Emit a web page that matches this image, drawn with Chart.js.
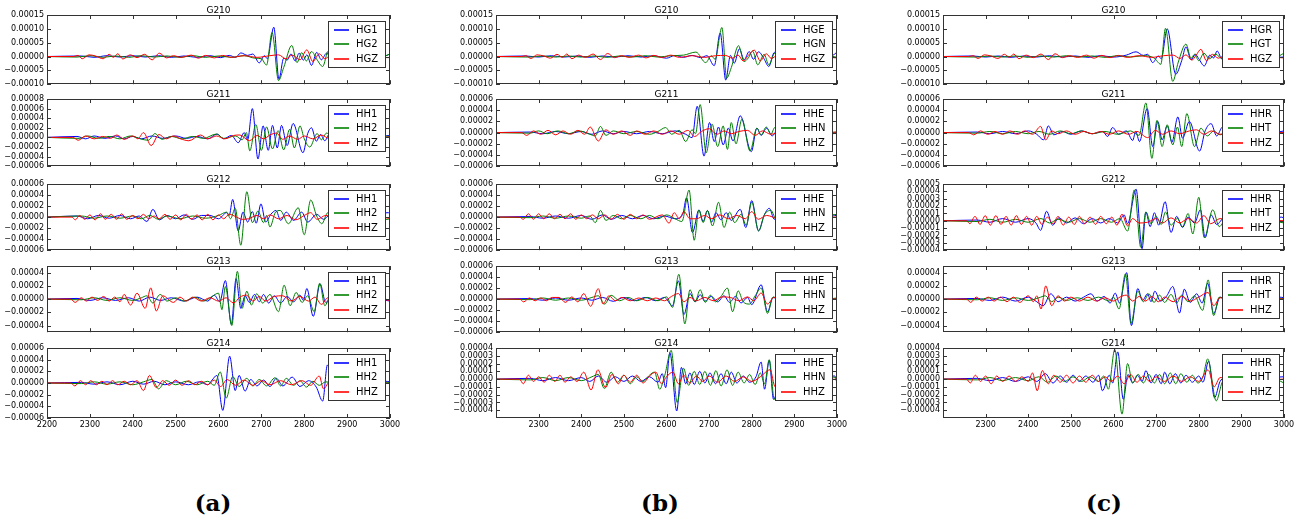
<!DOCTYPE html>
<html><head><meta charset="utf-8">
<script src="https://cdn.jsdelivr.net/npm/chart.js@4.4.0/dist/chart.umd.min.js"></script>
<style>
body{margin:0;background:#fff;width:1307px;height:523px;position:relative;overflow:hidden}
canvas{position:absolute}
.lab{position:absolute;font:bold 23px 'DejaVu Serif',serif;text-align:center;width:80px;color:#000}
</style>
</head><body>
<div class="lab" style="left:173px;top:489px">(a)</div>
<div class="lab" style="left:620px;top:489px">(b)</div>
<div class="lab" style="left:1064px;top:489px">(c)</div>
<script>
// values in units of 1e-5
const SCALE = 1e-5;
const stations = ['G210','G211','G212','G213','G214'];
const xTicksA = [2200,2300,2400,2500,2600,2700,2800,2900,3000];
const xTicksBC = [2300,2400,2500,2600,2700,2800,2900,3000];

const legendA = [['HG1','HG2','HGZ'],['HH1','HH2','HHZ'],['HH1','HH2','HHZ'],['HH1','HH2','HHZ'],['HH1','HH2','HHZ']];
const legendB = [['HGE','HGN','HGZ'],['HHE','HHN','HHZ'],['HHE','HHN','HHZ'],['HHE','HHN','HHZ'],['HHE','HHN','HHZ']];
const legendC = [['HGR','HGT','HGZ'],['HHR','HHT','HHZ'],['HHR','HHT','HHZ'],['HHR','HHT','HHZ'],['HHR','HHT','HHZ']];

const yRangeA = [[-10,15],[-6,8],[-6,6],[-5,5],[-6,6]];
const yTicksA = [[-10,-5,0,5,10,15],[-6,-4,-2,0,2,4,6,8],[-6,-4,-2,0,2,4,6],[-4,-2,0,2,4],[-6,-4,-2,0,2,4,6]];
const yRangeB = [[-10,15],[-6,6],[-6,6],[-6,6],[-5,4]];
const yTicksB = [[-10,-5,0,5,10,15],[-6,-4,-2,0,2,4,6],[-6,-4,-2,0,2,4,6],[-6,-4,-2,0,2,4,6],[-4,-3,-2,-1,0,1,2,3,4]];
const yRangeC = [[-10,15],[-6,6],[-4,5],[-5,5],[-5,4]];
const yTicksC = [[-10,-5,0,5,10,15],[-6,-4,-2,0,2,4,6],[-4,-3,-2,-1,0,1,2,3,4,5],[-4,-2,0,2,4],[-4,-3,-2,-1,0,1,2,3,4]];

// ---------- panel (a) ----------
const a210_1 = [[2200,0],[2280,0.2],[2310,-0.3],[2340,0.3],[2370,-0.2],[2400,0.3],[2430,-0.2],[2460,0.3],[2490,-0.3],[2520,0.2],[2550,-0.3],[2580,0.3],[2605,-0.4],[2625,0.4],[2640,-0.3],[2652,1.3],[2668,0.4],[2680,0.9],[2695,-2.3],[2707,0.3],[2714,-0.8],[2729,10.6],[2741,-8.2],[2752,-0.6],[2760,-1.3],[2769,0.9],[2779,-1.6],[2788,1.2],[2798,-1.3],[2806,0.6],[2817,-3.2],[2829,1.5],[2840,-1.2],[2852,1.2],[2866,-0.9],[2885,0.7],[2910,-0.5],[2940,0.4],[2970,-0.3],[2990,0.3],[3000,0.9]];
const a210_2 = [[2200,0],[2270,-0.2],[2300,0.3],[2330,-0.3],[2360,0.2],[2390,-0.3],[2420,0.3],[2450,-0.2],[2480,0.2],[2510,-0.3],[2540,0.3],[2570,-0.3],[2600,0.2],[2630,-0.3],[2660,0.3],[2685,-0.6],[2700,-0.8],[2712,-3.1],[2725,8.7],[2740,-8.7],[2752,-4],[2771,4],[2783,-2.2],[2794,1.4],[2805,-1.6],[2817,1.8],[2830,-1.2],[2843,-3.6],[2856,2],[2870,-1.2],[2890,0.9],[2915,-0.6],[2945,0.5],[2975,-0.4],[2990,0.2],[3000,1]];
const a210_Z = [[2200,0],[2262,0],[2272,0.4],[2282,-0.8],[2298,0.6],[2313,0.2],[2331,-0.8],[2345,0.8],[2355,-0.3],[2365,1.0],[2377,-0.9],[2394,0.6],[2410,-0.4],[2428,0.8],[2445,-1.2],[2462,1.2],[2479,-0.5],[2495,0.3],[2512,-0.3],[2537,0.5],[2553,-0.6],[2570,0.4],[2590,-0.5],[2610,0.4],[2630,-0.3],[2660,0.3],[2690,-0.3],[2720,0.3],[2740,0.6],[2757,-0.8],[2772,0.5],[2790,-1.2],[2806,2.4],[2820,-1.8],[2835,1],[2848,-0.8],[2862,0.4],[2890,-0.3],[2930,0.3],[2970,-0.3],[3000,-0.4]];

const a211_1 = [[2200,0],[2270,0.2],[2290,-0.3],[2310,0.3],[2335,-0.2],[2360,0.3],[2380,-0.3],[2400,0.2],[2420,-0.3],[2445,0.3],[2470,-0.2],[2500,0.3],[2525,-0.2],[2550,0.2],[2575,-0.3],[2597,0.7],[2612,-0.3],[2630,0.4],[2646,-1.1],[2660,1.0],[2668,-0.5],[2679,6.0],[2692,-4.5],[2704,2.4],[2716,-2.7],[2726,2.5],[2737,-2.2],[2747,2.5],[2760,-1.7],[2774,2.9],[2797,-3.2],[2808,0.8],[2817,2.0],[2828,-0.8],[2838,0.6],[2848,-0.7],[2858,0.6],[2880,-0.5],[2910,0.4],[2950,-0.3],[2985,0.3],[3000,0.4]];
const a211_2 = [[2200,0],[2275,-0.2],[2295,0.3],[2320,-0.2],[2345,0.2],[2370,-0.3],[2395,0.3],[2418,-0.3],[2436,-0.6],[2452,0.8],[2468,-0.4],[2490,0.2],[2515,-0.3],[2540,0.2],[2565,-0.2],[2595,0.7],[2612,-0.2],[2640,0.3],[2655,-0.5],[2665,1.0],[2673,-2.8],[2687,2.7],[2700,-2.7],[2712,2.2],[2726,-2.4],[2739,1.4],[2752,-2.6],[2766,1.7],[2777,-2.2],[2790,2.4],[2800,-0.3],[2813,-2.0],[2830,0.8],[2840,-0.5],[2852,0.9],[2870,-0.6],[2900,0.4],[2940,-0.3],[2980,0.3],[3000,0.2]];
const a211_Z = [[2200,0],[2260,0],[2273,-0.6],[2290,0.3],[2310,-0.3],[2330,0.2],[2348,-0.2],[2363,0.5],[2380,-0.4],[2400,0.3],[2412,-0.3],[2425,1.0],[2443,-1.7],[2461,0.6],[2478,-0.3],[2495,0.3],[2512,-0.3],[2531,-0.7],[2558,0.5],[2575,-0.3],[2595,0.3],[2615,-0.3],[2635,0.4],[2650,0.5],[2672,-0.7],[2690,0.4],[2705,-0.3],[2720,0.5],[2735,0.9],[2750,-0.4],[2765,0.3],[2785,-0.4],[2800,0.3],[2820,-0.3],[2840,0.5],[2860,-0.3],[2900,0.2],[2950,-0.2],[3000,0.1]];

const a212_1 = [[2200,0],[2270,0.2],[2295,-0.3],[2320,0.3],[2345,-0.2],[2370,0.3],[2395,-0.3],[2415,0.2],[2433,-0.8],[2447,1.4],[2462,-0.5],[2480,0.3],[2500,-0.3],[2520,0.4],[2540,-0.4],[2560,0.3],[2580,0.3],[2600,-0.3],[2619,0.8],[2625,0.3],[2633,3.2],[2646,-2.5],[2657,0.9],[2668,-0.9],[2679,1.0],[2688,-1.1],[2699,2.4],[2710,-0.9],[2722,0.5],[2734,1.2],[2745,-0.6],[2758,0.9],[2775,-0.6],[2794,0.9],[2808,-0.9],[2829,0.5],[2845,-0.4],[2860,0.4],[2900,-0.3],[2950,0.3],[2996,0.8],[3000,0.6]];
const a212_2 = [[2200,0],[2280,0.2],[2310,-0.2],[2340,0.2],[2370,-0.2],[2400,0.2],[2420,-0.3],[2440,0.3],[2460,-0.4],[2480,0.2],[2510,-0.3],[2540,0.2],[2570,-0.2],[2600,0.3],[2619,0.9],[2628,-0.3],[2639,1.6],[2652,-5.1],[2666,4.6],[2679,-1.0],[2692,1.1],[2705,-1.0],[2712,0.3],[2720,-1.8],[2733,0.9],[2744,1.2],[2763,-1.2],[2786,1.7],[2800,-3.2],[2815,3.1],[2829,0.2],[2841,-1.2],[2855,0.8],[2875,-0.5],[2910,0.4],[2950,-0.3],[2985,-0.5],[3000,-0.3]];
const a212_Z = [[2200,0],[2258,0],[2266,-0.5],[2276,0.3],[2288,-0.4],[2300,0.4],[2312,-0.5],[2325,0.6],[2336,-0.4],[2350,0.5],[2362,-0.4],[2374,0.6],[2386,-0.4],[2400,0.3],[2412,-0.3],[2425,0.5],[2437,-0.3],[2450,0.2],[2462,-0.3],[2475,0.5],[2487,-0.4],[2500,0.4],[2512,-0.5],[2525,0.5],[2537,-0.4],[2550,0.4],[2562,-0.5],[2575,0.5],[2587,-0.5],[2600,0.4],[2612,-0.3],[2625,0.5],[2640,0.1],[2655,-0.4],[2670,-0.3],[2690,0.3],[2705,-0.3],[2720,0.4],[2740,-0.3],[2760,0.3],[2780,-0.5],[2800,0.3],[2815,0.8],[2830,-0.4],[2850,0.3],[2880,-0.2],[2930,0.2],[3000,-0.2]];

const a213_1 = [[2200,0],[2270,0.1],[2300,-0.2],[2330,0.2],[2360,-0.2],[2390,0.2],[2415,-0.3],[2440,0.3],[2465,-0.2],[2490,0.2],[2520,-0.3],[2550,0.3],[2575,-0.3],[2590,0.6],[2603,-0.4],[2616,2.8],[2630,-3.8],[2641,3.1],[2652,-1.4],[2662,0.5],[2672,-0.5],[2684,0.7],[2695,-0.4],[2705,0.7],[2717,-0.6],[2730,0.5],[2745,-0.6],[2760,0.4],[2775,-0.4],[2790,0.6],[2798,-0.2],[2806,1.6],[2821,-2.6],[2837,2.3],[2850,-0.5],[2870,0.3],[2900,-0.2],[2950,0.2],[3000,-0.3]];
const a213_2 = [[2200,0],[2280,-0.1],[2310,0.2],[2340,-0.2],[2370,0.2],[2400,-0.2],[2420,0.2],[2433,0.5],[2447,-0.6],[2464,0.7],[2480,-0.3],[2500,0.2],[2520,-0.3],[2545,0.3],[2565,-0.3],[2585,0.4],[2600,0.9],[2608,-1.6],[2616,1.9],[2631,-4.0],[2644,4.2],[2655,-1.4],[2666,1.2],[2677,-0.9],[2689,0.8],[2703,-0.6],[2720,0.7],[2740,-1.9],[2753,2.1],[2767,-1.0],[2781,1.0],[2795,-0.5],[2808,0.5],[2823,-1.9],[2836,2.4],[2848,-1.0],[2860,0.3],[2890,-0.2],[2940,0.2],[3000,-0.1]];
const a213_Z = [[2200,0],[2255,0],[2266,-0.5],[2280,0.2],[2292,-0.3],[2305,0.3],[2318,-0.2],[2332,0.4],[2345,-0.3],[2358,0.3],[2370,-0.4],[2380,0.7],[2395,-0.9],[2410,0.9],[2429,-1.4],[2442,1.7],[2455,-1.8],[2470,0.5],[2495,-0.5],[2510,0.3],[2525,-0.3],[2540,0.3],[2560,-0.3],[2580,0.2],[2600,-0.3],[2618,0.2],[2635,-0.6],[2650,0.3],[2665,0.6],[2680,-0.3],[2695,0.4],[2710,-0.3],[2730,0.4],[2750,0.5],[2770,-0.3],[2790,0.4],[2810,-0.3],[2825,0.3],[2840,-0.8],[2855,0.2],[2890,-0.2],[2940,0.2],[3000,-0.2]];

const a214_1 = [[2200,0],[2280,0.1],[2310,-0.2],[2340,0.2],[2370,-0.3],[2400,0.3],[2425,-0.2],[2450,0.3],[2475,-0.3],[2500,0.2],[2530,-0.3],[2555,0.2],[2575,-0.3],[2585,0.5],[2596,1.3],[2610,-4.7],[2626,4.6],[2639,-1.3],[2648,1.3],[2662,-1.4],[2675,0.6],[2690,-0.5],[2705,0.5],[2720,-0.6],[2735,0.8],[2750,-0.5],[2772,1.0],[2790,-0.6],[2810,0.4],[2828,-0.7],[2843,-3.1],[2854,3.1],[2870,-0.5],[2900,0.3],[2950,-0.2],[2990,0.3],[3000,0.2]];
const a214_2 = [[2200,0],[2280,-0.1],[2310,0.2],[2340,-0.2],[2370,0.2],[2400,-0.3],[2425,0.2],[2445,0.6],[2460,-1.0],[2478,0.4],[2500,-0.3],[2525,0.3],[2550,-0.3],[2575,0.3],[2590,-0.4],[2604,1.9],[2618,-2.6],[2633,1.1],[2648,-0.6],[2666,0.8],[2680,-0.5],[2695,0.6],[2712,-0.5],[2732,0.9],[2745,-0.5],[2758,0.8],[2775,-0.4],[2790,0.4],[2805,-0.7],[2820,0.3],[2835,-0.4],[2850,0.2],[2880,-0.2],[2930,0.2],[3000,0.1]];
const a214_Z = [[2200,0],[2255,0],[2265,-0.5],[2278,0.4],[2290,-0.3],[2302,0.4],[2315,-0.3],[2328,0.3],[2340,-0.3],[2353,0.4],[2365,-0.3],[2380,0.3],[2395,-0.3],[2410,0.4],[2425,-1.3],[2439,1.3],[2455,-0.8],[2470,0.4],[2485,-0.4],[2500,0.5],[2515,-0.4],[2530,0.4],[2545,-0.3],[2560,0.3],[2575,-0.3],[2590,0.5],[2605,-0.6],[2620,0.6],[2640,-0.4],[2660,0.5],[2680,-0.4],[2700,0.4],[2720,-0.3],[2745,0.4],[2770,-0.3],[2795,0.4],[2815,-0.4],[2835,1.2],[2845,-1.0],[2860,0.3],[2900,-0.2],[2950,0.2],[3000,-0.1]];

// ---------- panel (b) ----------
const b210_E = [[2200,0],[2270,0.2],[2300,-0.2],[2330,0.3],[2360,-0.2],[2390,0.2],[2420,-0.3],[2450,0.2],[2480,-0.2],[2510,0.3],[2540,-0.2],[2570,0.3],[2600,-0.6],[2620,0.4],[2640,-0.3],[2660,0.4],[2680,-0.4],[2695,0.3],[2712,-3.3],[2726,8.5],[2739,-8.5],[2750,0.4],[2759,-2.4],[2771,2.8],[2782,-1.2],[2794,1.8],[2804,-1],[2816,1.7],[2828,-0.6],[2840,-3.6],[2853,1.5],[2868,-0.8],[2890,0.5],[2920,-0.4],[2960,0.3],[2990,0.5],[3000,1.6]];
const b210_N = [[2200,0],[2280,-0.2],[2310,0.2],[2340,-0.2],[2370,0.2],[2400,-0.2],[2430,0.2],[2460,-0.3],[2490,0.2],[2520,-0.2],[2550,0.3],[2580,-0.2],[2610,0.3],[2640,0.5],[2669,1.6],[2692,-2.2],[2705,0.3],[2714,-1.0],[2730,10.5],[2741,-7.8],[2752,-4],[2769,3.9],[2782,-1.8],[2792,-0.5],[2802,2],[2814,-3],[2829,0.8],[2840,-3],[2854,1.2],[2870,-0.8],[2900,0.5],[2940,-0.4],[2980,0.3],[3000,-0.3]];
const b210_Z = [[2200,0],[2260,0],[2270,0.3],[2282,-0.7],[2296,0.6],[2312,0.2],[2328,-0.6],[2343,0.8],[2356,-0.3],[2366,0.9],[2378,-0.8],[2394,0.5],[2410,-0.3],[2428,0.9],[2445,-1.1],[2462,1.1],[2478,-0.4],[2495,0.3],[2512,-0.3],[2535,0.5],[2552,-0.5],[2570,0.4],[2590,-0.4],[2610,0.5],[2630,-0.3],[2660,0.3],[2690,-0.3],[2715,0.3],[2738,0.4],[2755,-0.6],[2768,0.5],[2780,-1.6],[2793,0.6],[2806,2.3],[2820,-1.6],[2834,1.0],[2846,-0.7],[2860,0.4],[2890,-0.3],[2940,0.3],[2980,-0.3],[3000,-0.5]];

const b211_E = [[2200,0],[2280,0.1],[2310,-0.2],[2340,0.2],[2370,-0.2],[2400,0.2],[2425,-0.3],[2450,0.3],[2475,-0.2],[2500,0.2],[2530,-0.2],[2560,0.2],[2590,-0.2],[2620,0.3],[2645,-0.3],[2660,-0.9],[2672,4.7],[2688,-4.2],[2701,1.8],[2712,-1.6],[2722,1.0],[2733,-2.2],[2745,0.8],[2756,-1.5],[2773,3.0],[2799,-3.4],[2812,0.8],[2822,-0.5],[2835,0.8],[2848,-0.6],[2860,0.4],[2890,-0.3],[2940,0.3],[2990,-0.2],[3000,0.1]];
const b211_N = [[2200,0],[2280,-0.1],[2300,0.3],[2320,-0.2],[2345,0.3],[2370,-0.2],[2395,0.3],[2420,-0.3],[2433,-0.6],[2445,1.1],[2458,-0.5],[2475,0.3],[2500,-0.2],[2530,0.2],[2560,-0.3],[2580,0.2],[2598,0.9],[2612,-0.3],[2630,0.4],[2645,-1.6],[2660,0.5],[2668,-0.2],[2679,5.0],[2693,-3.6],[2707,1.5],[2720,-2.5],[2733,1.2],[2743,-3.0],[2752,1.8],[2763,-2.0],[2777,2.4],[2796,-3.3],[2812,0.8],[2822,-0.4],[2834,1.0],[2845,-0.3],[2854,0.9],[2870,-0.5],[2900,0.3],[2950,-0.2],[3000,0.1]];
const b211_Z = [[2200,0],[2260,0],[2272,-0.5],[2288,0.3],[2305,-0.3],[2322,0.4],[2340,-0.4],[2357,0.3],[2375,-0.3],[2392,0.4],[2408,-0.3],[2421,1.0],[2440,-1.5],[2458,0.5],[2475,-0.3],[2495,0.3],[2515,-0.5],[2530,0.3],[2550,-0.3],[2570,0.3],[2590,-0.3],[2610,0.3],[2630,-0.3],[2650,0.4],[2666,-0.7],[2682,0.2],[2700,0.7],[2718,-0.3],[2735,0.3],[2752,-0.2],[2770,0.2],[2790,0.4],[2808,-0.5],[2825,0.3],[2845,-0.3],[2870,0.2],[2920,-0.2],[3000,0.1]];

const b212_E = [[2200,0],[2280,0.1],[2310,-0.2],[2340,0.2],[2370,-0.2],[2400,0.3],[2425,-0.4],[2450,0.4],[2470,-0.4],[2495,0.3],[2520,-0.3],[2545,0.3],[2570,-0.3],[2595,0.2],[2620,-0.3],[2638,0.5],[2647,3.5],[2661,-2.8],[2676,1.3],[2686,-0.8],[2696,1.2],[2706,-0.9],[2716,0.8],[2728,-0.5],[2740,0.8],[2752,-0.6],[2773,1.4],[2786,-1.9],[2800,3.0],[2816,-2.5],[2829,0.3],[2841,1.6],[2853,-0.4],[2870,0.3],[2900,-0.2],[2950,0.3],[2990,0.4],[3000,0.2]];
const b212_N = [[2200,0],[2280,-0.1],[2310,0.2],[2340,-0.2],[2370,0.2],[2400,-0.2],[2420,0.2],[2433,-1.0],[2445,1.2],[2458,-0.6],[2475,0.3],[2495,-0.3],[2515,0.3],[2540,-0.3],[2560,0.3],[2580,-0.3],[2600,0.4],[2620,-0.3],[2636,-0.8],[2653,4.9],[2665,-4.2],[2676,1.3],[2686,-1.0],[2696,1.2],[2708,-1.6],[2722,2.7],[2735,-1.9],[2748,0.9],[2760,-1.0],[2775,0.5],[2787,-1.5],[2800,2.7],[2816,-2.5],[2830,0.5],[2845,1.2],[2858,-0.5],[2880,0.3],[2920,-0.2],[2970,0.2],[3000,0.5]];
const b212_Z = [[2200,0],[2255,0],[2264,-0.4],[2276,0.6],[2288,-0.4],[2300,0.6],[2312,-0.3],[2325,0.6],[2337,-0.3],[2350,0.5],[2362,-0.3],[2375,0.6],[2387,-0.4],[2400,0.4],[2413,-0.3],[2426,0.4],[2440,-0.3],[2455,0.4],[2470,-0.4],[2485,0.5],[2500,-0.4],[2515,0.5],[2530,-0.3],[2545,0.4],[2560,-0.4],[2590,0.4],[2606,-1.1],[2618,0.8],[2630,-0.3],[2641,1.0],[2655,-0.3],[2670,-0.3],[2690,0.3],[2705,-0.3],[2725,0.4],[2745,-0.3],[2765,0.3],[2785,-0.3],[2800,1.0],[2815,-0.4],[2835,0.3],[2860,-0.2],[2900,0.2],[3000,0]];

const b213_E = [[2200,0],[2280,0.1],[2310,-0.2],[2340,0.2],[2370,-0.2],[2400,0.2],[2425,-0.2],[2450,0.3],[2475,-0.4],[2500,0.3],[2525,-0.3],[2550,0.3],[2575,-0.3],[2595,0.3],[2614,-1.2],[2628,3.3],[2641,-2.8],[2655,1.0],[2667,-0.5],[2679,0.8],[2690,-0.4],[2705,0.5],[2720,-0.5],[2735,0.6],[2748,-0.6],[2762,0.5],[2775,-0.7],[2790,0.3],[2800,-1.0],[2822,2.6],[2837,-2.3],[2850,0.3],[2870,-0.3],[2900,0.2],[2950,-0.2],[3000,0.1]];
const b213_N = [[2200,0],[2280,-0.1],[2310,0.2],[2340,-0.2],[2370,0.2],[2400,-0.2],[2425,0.3],[2440,0.6],[2455,-0.9],[2470,0.7],[2490,-0.3],[2510,0.3],[2530,-0.3],[2555,0.3],[2580,-0.3],[2600,0.4],[2614,-1.5],[2629,4.5],[2643,-4.5],[2655,1.7],[2667,-0.5],[2679,1.7],[2691,-0.6],[2703,0.7],[2715,-0.5],[2728,0.5],[2743,2.0],[2755,-2.3],[2768,1.5],[2780,-0.5],[2795,-0.9],[2808,0.6],[2822,2.0],[2837,-2.6],[2850,0.4],[2870,-0.3],[2900,0.2],[2950,-0.2],[3000,0.2]];
const b213_Z = [[2200,0],[2255,0],[2265,-0.5],[2278,0.2],[2292,-0.3],[2305,0.2],[2318,-0.3],[2332,0.3],[2348,0.3],[2363,-0.6],[2378,0.4],[2392,-0.5],[2406,1.0],[2422,-1.3],[2440,1.9],[2451,-0.9],[2465,0.6],[2480,-0.3],[2495,0.3],[2515,-0.3],[2535,0.2],[2555,-0.3],[2575,0.2],[2595,-0.3],[2612,0.5],[2628,1.0],[2641,-0.5],[2655,0.3],[2670,-0.3],[2690,0.3],[2710,-0.3],[2730,0.4],[2750,0.3],[2770,-0.3],[2790,0.4],[2805,-0.3],[2822,1.1],[2837,-0.9],[2852,0.3],[2880,-0.2],[2930,0.2],[3000,0]];

const b214_E = [[2200,0],[2280,0.1],[2310,-0.2],[2340,0.2],[2370,-0.2],[2400,0.2],[2420,-0.3],[2440,0.4],[2460,-0.4],[2480,0.3],[2500,-0.3],[2520,0.4],[2540,-0.3],[2560,0.3],[2580,-0.4],[2590,0.7],[2598,-1.1],[2608,3.4],[2624,-4.1],[2635,1.5],[2645,-0.6],[2655,0.8],[2665,-0.7],[2678,1.0],[2690,-0.5],[2702,0.8],[2715,-0.6],[2728,0.7],[2740,-0.6],[2752,0.9],[2765,-0.5],[2780,0.4],[2795,-0.4],[2810,0.3],[2822,2.2],[2830,-1.3],[2841,2.4],[2851,-2.6],[2862,-1.2],[2880,0.4],[2920,-0.3],[2970,0.3],[2995,0.4],[3000,-0.6]];
const b214_N = [[2200,0],[2280,-0.1],[2310,0.2],[2340,-0.2],[2370,0.2],[2400,-0.2],[2425,0.3],[2440,0.6],[2454,-1.2],[2470,0.9],[2485,-0.4],[2500,0.5],[2515,-0.6],[2530,0.3],[2545,-0.3],[2560,0.5],[2572,0.9],[2584,-1.3],[2596,0.5],[2611,3.7],[2625,-3.0],[2640,1.4],[2652,-0.8],[2665,1.0],[2678,-0.7],[2690,1.0],[2703,-0.8],[2716,1.1],[2728,-0.9],[2742,1.2],[2755,-0.8],[2768,0.9],[2782,-0.5],[2795,0.6],[2808,-0.7],[2820,0.8],[2830,-0.6],[2841,2.5],[2853,-2.6],[2865,-0.8],[2885,0.3],[2930,-0.2],[2980,0.3],[3000,0.2]];
const b214_Z = [[2200,0],[2255,0],[2264,-0.6],[2276,0.5],[2288,-0.3],[2300,0.3],[2313,-0.4],[2325,0.5],[2338,-0.3],[2350,0.5],[2362,-0.4],[2375,0.3],[2390,-0.3],[2406,0.9],[2423,-1.4],[2439,1.2],[2457,-1.1],[2472,0.6],[2487,-0.6],[2500,0.5],[2515,-0.4],[2530,0.5],[2545,-0.5],[2560,0.4],[2575,0.9],[2588,-0.6],[2600,0.3],[2615,0.9],[2628,-0.6],[2640,0.5],[2655,-0.5],[2670,0.4],[2685,-0.3],[2700,0.4],[2720,-0.4],[2740,0.4],[2760,-0.3],[2780,0.3],[2800,-0.3],[2820,0.3],[2843,1.2],[2855,-1.0],[2870,0.2],[2920,-0.2],[3000,0]];

// ---------- panel (c) ----------
const c210_R = [[2200,0],[2270,0.2],[2300,-0.2],[2330,0.2],[2360,-0.3],[2390,0.2],[2420,-0.2],[2450,0.3],[2480,-0.2],[2510,0.2],[2540,-0.3],[2570,0.3],[2600,-0.2],[2630,0.5],[2653,1.7],[2670,0.4],[2680,0.8],[2692,-2.2],[2705,0.2],[2712,-0.8],[2726,10],[2746,-6.4],[2760,-1.5],[2770,3.5],[2782,-1.2],[2792,0.8],[2800,-0.8],[2813,-3.4],[2826,0.5],[2835,-0.5],[2843,2],[2855,-1],[2870,0.5],[2900,-0.4],[2940,0.3],[2980,-0.3],[3000,-0.2]];
const c210_T = [[2200,0],[2280,-0.2],[2310,0.2],[2340,-0.2],[2370,0.2],[2400,-0.3],[2430,0.2],[2460,-0.2],[2490,0.3],[2520,-0.2],[2550,0.2],[2580,-0.3],[2610,0.3],[2640,-0.2],[2670,0.3],[2695,-0.5],[2711,-2.8],[2722,10.2],[2739,-9],[2752,-2],[2770,4.5],[2782,-0.7],[2790,0.8],[2800,-1.5],[2812,1.2],[2825,-0.8],[2840,0.9],[2852,-0.5],[2870,0.6],[2900,-0.4],[2940,0.3],[2980,-0.2],[3000,1.2]];
const c210_Z = [[2200,0],[2260,0],[2271,0.3],[2282,-0.7],[2297,0.6],[2312,0.2],[2329,-0.7],[2344,0.8],[2356,-0.3],[2366,0.9],[2378,-0.8],[2395,0.5],[2412,-0.4],[2430,0.9],[2447,-1.1],[2463,1.0],[2480,-0.4],[2497,0.3],[2515,-0.3],[2537,0.5],[2554,-0.6],[2572,0.4],[2592,-0.4],[2612,0.4],[2632,-0.3],[2660,0.3],[2690,-0.3],[2718,0.3],[2740,0.5],[2756,-0.7],[2770,0.6],[2784,-1.3],[2794,0.5],[2805,2.6],[2818,-1.5],[2832,0.8],[2846,-0.6],[2860,0.4],[2890,-0.3],[2940,0.3],[2980,-0.3],[3000,-0.5]];

const c211_R = [[2200,0],[2280,0.1],[2310,-0.2],[2340,0.2],[2370,-0.2],[2400,0.3],[2420,-0.3],[2436,-1.3],[2447,1.2],[2460,-0.4],[2480,0.2],[2500,-0.3],[2525,0.3],[2550,-0.2],[2575,0.2],[2586,-0.7],[2598,0.9],[2612,-0.3],[2630,0.3],[2645,-1.4],[2652,0.2],[2661,-1.6],[2679,4.3],[2692,-2.5],[2704,2.0],[2714,-1.3],[2726,1.2],[2737,-1.7],[2751,2.8],[2762,-1.0],[2778,2.0],[2802,-3.3],[2815,0.3],[2829,1.6],[2842,-0.6],[2856,1.0],[2875,-0.4],[2910,0.3],[2960,-0.2],[3000,0.3]];
const c211_T = [[2200,0],[2280,-0.1],[2310,0.2],[2340,-0.2],[2370,0.2],[2400,-0.2],[2425,0.2],[2450,-0.3],[2475,0.3],[2500,-0.2],[2525,0.3],[2550,-0.2],[2580,0.2],[2610,-0.3],[2640,0.3],[2660,-0.5],[2676,5.3],[2690,-4.6],[2702,2.2],[2714,-2.5],[2726,1.4],[2739,-2.2],[2750,1.0],[2760,-2.5],[2772,3.4],[2790,-2.5],[2805,0.8],[2820,-0.6],[2835,0.3],[2850,-0.4],[2870,0.3],[2910,-0.2],[2960,0.2],[3000,-0.1]];
const c211_Z = [[2200,0],[2260,0],[2272,-0.4],[2288,0.3],[2305,-0.3],[2322,0.2],[2340,-0.3],[2357,0.3],[2375,-0.3],[2392,0.3],[2410,-0.3],[2429,1.1],[2441,-1.3],[2455,0.3],[2470,-0.2],[2490,0.3],[2510,-0.3],[2530,0.2],[2550,-0.2],[2570,0.2],[2590,-0.3],[2612,0.3],[2635,-0.3],[2655,0.2],[2680,-0.9],[2698,0.4],[2715,-0.3],[2735,0.3],[2755,-0.2],[2778,0.3],[2795,0.5],[2812,-0.3],[2830,0.3],[2850,-0.3],[2880,0.2],[2930,-0.1],[3000,0]];

const c212_R = [[2200,0],[2280,0.1],[2310,-0.2],[2340,0.3],[2370,-0.2],[2400,0.3],[2418,-0.3],[2429,-1.3],[2443,1.3],[2457,-0.6],[2472,0.4],[2490,-0.3],[2510,0.4],[2530,-0.4],[2550,0.3],[2570,-0.3],[2590,0.3],[2610,-0.3],[2625,0.8],[2633,-0.4],[2653,4.3],[2667,-3.8],[2676,1.2],[2686,-0.8],[2696,1.1],[2706,-0.6],[2721,2.6],[2735,-1.6],[2748,0.6],[2762,-0.9],[2775,0.5],[2790,-0.3],[2804,1.5],[2815,-2.3],[2829,0.8],[2842,-0.5],[2860,0.4],[2900,-0.2],[2960,0.2],[2995,0.5],[3000,0.3]];
const c212_T = [[2200,0],[2280,-0.1],[2310,0.2],[2340,-0.2],[2370,0.2],[2400,-0.2],[2430,0.3],[2450,-0.3],[2470,0.2],[2495,-0.2],[2520,0.3],[2545,-0.2],[2570,0.3],[2595,-0.2],[2615,0.3],[2633,-1.4],[2649,4.2],[2664,-3.6],[2676,1.2],[2688,-0.4],[2700,0.6],[2712,-0.5],[2722,1.2],[2735,-0.6],[2750,0.3],[2762,-0.8],[2775,1.0],[2786,-1.8],[2800,3.2],[2813,-2.3],[2833,1.5],[2848,-0.8],[2865,0.3],[2900,-0.2],[2950,0.2],[3000,-0.3]];
const c212_Z = [[2200,0],[2255,0],[2263,-0.4],[2275,0.6],[2287,-0.5],[2299,0.7],[2311,-0.6],[2324,0.7],[2336,-0.5],[2348,0.6],[2360,-0.6],[2372,0.7],[2384,-0.5],[2396,0.6],[2408,-0.6],[2420,0.6],[2432,-0.5],[2445,0.5],[2458,-0.4],[2470,0.6],[2482,-0.6],[2495,0.5],[2508,-0.5],[2520,0.6],[2532,-0.4],[2545,0.5],[2558,-0.5],[2570,0.6],[2583,-0.4],[2596,0.5],[2608,-0.6],[2620,0.9],[2633,-0.7],[2645,0.3],[2660,-0.3],[2680,-0.2],[2700,0.3],[2715,-0.3],[2735,0.4],[2755,-0.3],[2775,0.3],[2795,-0.3],[2812,0.7],[2828,-0.4],[2850,0.3],[2900,-0.2],[2960,0.1],[3000,0]];

const c213_R = [[2200,0],[2280,0.1],[2310,-0.2],[2340,0.3],[2370,-0.3],[2400,0.3],[2420,-0.4],[2435,-1.0],[2453,0.8],[2470,-0.4],[2490,0.3],[2510,-0.3],[2530,0.3],[2547,0.8],[2562,-0.3],[2578,0.4],[2592,-0.6],[2604,0.9],[2614,-0.6],[2631,4.0],[2642,-4.0],[2657,1.6],[2668,-0.2],[2680,0.8],[2688,-0.4],[2697,1.2],[2710,-0.3],[2725,0.5],[2739,1.9],[2755,-2.1],[2766,1.5],[2780,-0.5],[2795,0.8],[2808,-0.6],[2821,2.4],[2835,-2.2],[2850,0.3],[2870,-0.2],[2920,0.2],[2990,0.3],[3000,0.2]];
const c213_T = [[2200,0],[2280,-0.1],[2310,0.2],[2340,-0.2],[2370,0.2],[2400,-0.2],[2425,0.2],[2440,0.5],[2455,-0.4],[2470,0.3],[2490,-0.2],[2515,0.2],[2540,-0.2],[2565,0.3],[2590,-0.3],[2600,0.3],[2613,-1.5],[2628,3.8],[2641,-3.7],[2657,1.2],[2670,-0.4],[2683,0.8],[2695,-0.5],[2708,0.6],[2720,-0.5],[2735,0.7],[2748,-0.6],[2760,0.6],[2775,-0.4],[2790,0.5],[2809,-1.7],[2822,2.9],[2835,-2.5],[2848,0.3],[2870,-0.2],[2920,0.2],[3000,0.1]];
const c213_Z = [[2200,0],[2255,0],[2265,-0.5],[2278,0.3],[2292,-0.3],[2306,0.3],[2320,-0.3],[2335,0.3],[2350,-0.4],[2365,0.3],[2380,-0.5],[2400,0.5],[2412,-0.4],[2420,0.5],[2430,-1.5],[2441,2.0],[2455,-1.0],[2470,0.5],[2485,-0.3],[2500,0.3],[2520,-0.3],[2540,0.3],[2560,-0.3],[2580,0.2],[2600,-0.3],[2615,0.3],[2630,0.6],[2645,-0.3],[2660,0.4],[2675,-0.3],[2690,0.4],[2705,-0.4],[2720,0.3],[2740,-0.4],[2760,0.4],[2780,-0.3],[2800,0.3],[2822,1.0],[2835,-1.0],[2850,0.2],[2880,-0.2],[2930,0.2],[3000,0]];

const c214_R = [[2200,0],[2280,0.1],[2310,-0.2],[2340,0.2],[2370,-0.3],[2400,0.3],[2420,-0.3],[2440,0.7],[2458,-0.5],[2475,0.4],[2490,-0.4],[2505,0.5],[2520,-0.3],[2535,0.4],[2552,-0.4],[2565,0.5],[2574,-1.5],[2590,0.5],[2598,-0.5],[2610,3.5],[2623,-2.6],[2634,0.6],[2645,-0.5],[2656,0.5],[2667,-0.3],[2676,1.1],[2688,-0.5],[2700,0.6],[2712,-0.6],[2720,0.9],[2732,-0.6],[2745,0.7],[2758,-0.5],[2770,0.5],[2785,-0.4],[2800,0.4],[2810,-0.4],[2823,2.3],[2837,-2.4],[2850,-0.3],[2870,0.3],[2920,-0.2],[2970,0.2],[3000,0.3]];
const c214_T = [[2200,0],[2280,-0.1],[2310,0.2],[2340,-0.2],[2370,0.2],[2400,-0.2],[2425,0.3],[2445,-0.4],[2465,0.4],[2485,-0.3],[2505,0.3],[2525,-0.3],[2545,0.3],[2565,-0.3],[2577,0.4],[2588,-1.3],[2603,3.8],[2620,-4.5],[2633,2.0],[2645,-0.5],[2658,0.6],[2670,-0.5],[2683,0.6],[2696,-0.5],[2708,0.6],[2720,-0.6],[2733,0.8],[2746,-0.6],[2758,0.7],[2772,-0.4],[2785,0.5],[2798,-0.5],[2810,0.3],[2821,2.6],[2841,-2.8],[2855,-0.4],[2875,0.3],[2920,-0.2],[2970,0.2],[3000,-0.5]];
const c214_Z = [[2200,0],[2255,0],[2264,-0.5],[2276,0.5],[2288,-0.3],[2300,0.4],[2313,-0.6],[2326,0.4],[2340,-0.3],[2355,0.4],[2370,-0.3],[2385,0.3],[2400,-0.3],[2410,0.8],[2421,-1.5],[2433,1.1],[2447,-0.6],[2460,0.5],[2475,-0.4],[2490,0.5],[2505,-0.5],[2520,0.4],[2535,-0.4],[2550,0.5],[2565,-0.3],[2580,0.3],[2595,-0.3],[2610,0.4],[2625,-0.6],[2640,0.6],[2655,-0.4],[2670,0.4],[2685,-0.3],[2700,0.3],[2720,-0.3],[2740,0.4],[2760,-0.3],[2780,0.3],[2800,-0.3],[2822,1.2],[2836,-1.0],[2850,0.2],[2900,-0.2],[3000,0]];

const colors = ['#0000ff','#008000','#ff0000'];
const rows = [[15,86],[99,168],[184,252],[266,334],[348,418]];
const panels = [
  {x0:47, x1:390, xt:xTicksA, legends:legendA, ranges:yRangeA, yticks:yTicksA,
   series:[[a210_1,a210_2,a210_Z],[a211_1,a211_2,a211_Z],[a212_1,a212_2,a212_Z],[a213_1,a213_2,a213_Z],[a214_1,a214_2,a214_Z]]},
  {x0:496, x1:837, xt:xTicksBC, legends:legendB, ranges:yRangeB, yticks:yTicksB,
   series:[[b210_E,b210_N,b210_Z],[b211_E,b211_N,b211_Z],[b212_E,b212_N,b212_Z],[b213_E,b213_N,b213_Z],[b214_E,b214_N,b214_Z]]},
  {x0:943, x1:1284, xt:xTicksBC, legends:legendC, ranges:yRangeC, yticks:yTicksC,
   series:[[c210_R,c210_T,c210_Z],[c211_R,c211_T,c211_Z],[c212_R,c212_T,c212_Z],[c213_R,c213_T,c213_Z],[c214_R,c214_T,c214_Z]]}
];

function fmt(v){ return (v*SCALE).toFixed(5).replace('-','\u2212'); }

function makeDecor(cfg){
  return {
    id:'decor',
    afterDatasetsDraw(chart){
      const ctx = chart.ctx, a = chart.chartArea;
      const xs = chart.scales.x, ys = chart.scales.y;
      ctx.save();
      ctx.strokeStyle = '#333'; ctx.lineWidth = 1;
      ctx.beginPath();
      cfg.xt.forEach(v => {
        const p = Math.round(xs.getPixelForValue(v)) + 0.5;
        ctx.moveTo(p, a.bottom); ctx.lineTo(p, a.bottom - 4);
        ctx.moveTo(p, a.top); ctx.lineTo(p, a.top + 4);
      });
      cfg.yt.forEach(v => {
        const p = Math.round(ys.getPixelForValue(v)) + 0.5;
        ctx.moveTo(a.left, p); ctx.lineTo(a.left + 4, p);
        ctx.moveTo(a.right, p); ctx.lineTo(a.right - 4, p);
      });
      ctx.stroke();
      ctx.strokeRect(Math.round(a.left) + 0.5, Math.round(a.top) + 0.5, Math.round(a.right - a.left) - 1, Math.round(a.bottom - a.top) - 1);
      // title
      ctx.fillStyle = '#000';
      ctx.font = '9px "DejaVu Sans"';
      ctx.textAlign = 'center'; ctx.textBaseline = 'alphabetic';
      ctx.fillText(cfg.title, (a.left + a.right) / 2, a.top - 2);
      // legend
      const lw = 57, lh = 46;
      const lx = Math.round(a.right - 5 - lw), ly = Math.round(a.top + 6);
      ctx.fillStyle = '#fff';
      ctx.fillRect(lx, ly, lw, lh);
      ctx.strokeStyle = '#333';
      ctx.strokeRect(lx + 0.5, ly + 0.5, lw, lh);
      ctx.font = '10px "DejaVu Sans"';
      ctx.textAlign = 'left'; ctx.textBaseline = 'middle';
      cfg.labels.forEach((t, k) => {
        const yy = Math.round(ly + 9 + k * 14.3);
        ctx.strokeStyle = colors[k];
        ctx.lineWidth = 1.6;
        ctx.beginPath(); ctx.moveTo(lx + 6, yy); ctx.lineTo(lx + 21, yy); ctx.stroke();
        ctx.fillStyle = '#000';
        ctx.fillText(t, lx + 28, yy + 0.5);
      });
      ctx.restore();
    }
  };
}

panels.forEach(p => {
  rows.forEach((r, ri) => {
    const last = ri === 4;
    const YW = 46, PR = 16, PT = 15, PB = last ? 2 : 6, XH = last ? 14 : 0;
    const w = YW + (p.x1 - p.x0) + PR;
    const h = PT + (r[1] - r[0]) + PB + XH;
    const c = document.createElement('canvas');
    c.width = w; c.height = h;
    c.style.left = (p.x0 - YW) + 'px'; c.style.top = (r[0] - PT) + 'px';
    c.style.width = w + 'px'; c.style.height = h + 'px';
    document.body.appendChild(c);
    const yt = p.yticks[ri];
    new Chart(c, {
      type: 'line',
      data: {
        datasets: p.series[ri].map((d, k) => ({
          label: p.legends[ri][k], data: d, borderColor: colors[k], borderWidth: 1,
          pointRadius: 0, fill: false, cubicInterpolationMode: 'monotone', order: 3 - k
        }))
      },
      options: {
        responsive: false, animation: false, devicePixelRatio: 1, events: [],
        layout: {padding: {left: 0, right: PR, top: PT, bottom: PB}},
        plugins: {legend: {display: false}, tooltip: {enabled: false}, title: {display: false}},
        scales: {
          x: {type: 'linear', min: 2200, max: 3000,
              grid: {display: false, drawTicks: false}, border: {display: false},
              ticks: {display: last, autoSkip: false, maxRotation: 0, minRotation: 0, padding: 2, color: '#000',
                      font: {family: 'DejaVu Sans', size: 8}, callback: v => String(v)},
              afterBuildTicks: s => { s.ticks = p.xt.map(v => ({value: v})); },
              afterFit: s => { s.height = XH; }},
          y: {type: 'linear', min: p.ranges[ri][0], max: p.ranges[ri][1],
              grid: {display: false, drawTicks: false}, border: {display: false},
              ticks: {autoSkip: false, padding: 3, color: '#000',
                      font: {family: 'DejaVu Sans', size: 8}, callback: v => fmt(v)},
              afterBuildTicks: s => { s.ticks = yt.map(v => ({value: v})); },
              afterFit: s => { s.width = YW; }}
        }
      },
      plugins: [makeDecor({title: stations[ri], labels: p.legends[ri], xt: p.xt, yt: yt})]
    });
  });
});
</script>
</body></html>
